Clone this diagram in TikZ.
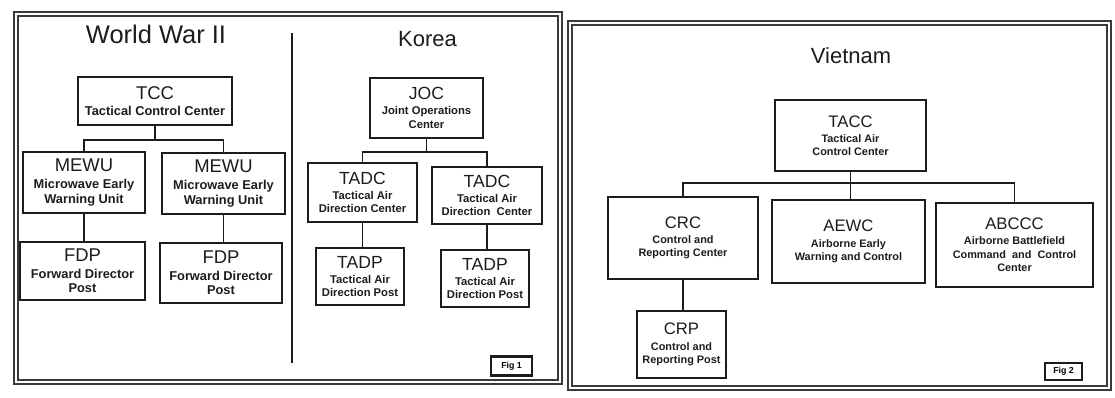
\documentclass[tikz,border=0pt]{standalone}
\usepackage{fontspec}
\setmainfont{Liberation Sans}
\usetikzlibrary{positioning}
\definecolor{ScanInk}{HTML}{1C1C1C}
\definecolor{ScanFrame}{HTML}{3A3A3A}
\newcommand{\abbr}[2]{{\mdseries\fontsize{#1}{#1}\selectfont #2}}
\tikzset{
   unit/.style={draw=ScanInk, line width=1pt, align=center, inner sep=1pt,
      text=ScanInk, font=\bfseries\fontsize{7.3}{8.4}\selectfont},
   unitK/.style={unit, font=\bfseries\fontsize{6.4}{7.6}\selectfont},
   unitV/.style={unit, font=\bfseries\fontsize{6.2}{7.6}\selectfont},
   link/.style={draw=ScanInk, line width=0.8pt},
   title/.style={text=ScanInk, inner sep=0pt},
   figbox/.style={draw=ScanInk, line width=1.5pt, inner sep=0pt,
      font=\bfseries\fontsize{5}{5}\selectfont}
}

\begin{document}
\begin{tikzpicture}[x=0.02cm, y=-0.02cm]
   \useasboundingbox (0,0) rectangle (1115,398);
   % Frames
   \draw[ScanFrame, line width=1.3pt] (14,12) rectangle (562,384);
   \draw[ScanFrame, line width=0.7pt] (18,16) rectangle (558,380);
   \draw[ScanFrame, line width=1.3pt] (568,21) rectangle (1111,390);
   \draw[ScanFrame, line width=0.7pt] (572,25) rectangle (1107,386);
   \draw[ScanInk, line width=1pt] (292,33) -- (292,363);

   % World War II
   \node[title, font=\fontsize{14.5}{15}\selectfont] (wwTitle) at (156,34) {World War II};
   \node[unit, minimum width=3.08cm, minimum height=0.96cm] (tcc) at (155,101)
      {\abbr{10.5}{TCC}\\[1pt] Tactical Control Center};
   \node[unit, minimum width=2.44cm, minimum height=1.22cm] (mewuA) at (84,182.5)
      {\abbr{10.5}{MEWU}\\[1pt] Microwave Early\\ Warning Unit};
   \node[unit, minimum width=2.46cm, minimum height=1.22cm] (mewuB) at (223.5,183.5)
      {\abbr{10.5}{MEWU}\\[1pt] Microwave Early\\ Warning Unit};
   \node[unit, minimum width=2.5cm, minimum height=1.16cm] (fdpA) at (82.5,271)
      {\abbr{10.5}{FDP}\\[1pt] Forward Director\\ Post};
   \node[unit, minimum width=2.44cm, minimum height=1.2cm] (fdpB) at (221,273)
      {\abbr{10.5}{FDP}\\[1pt] Forward Director\\ Post};
   \coordinate (wwBus) at (155,140);
   \draw[link] (tcc.south) -- (wwBus);
   \draw[link] (mewuA.north) |- (wwBus) -| (mewuB.north);
   \draw[link] (mewuA.south) -- (mewuA.south |- fdpA.north);
   \draw[link] (mewuB.south) -- (mewuB.south |- fdpB.north);

   % Korea
   \node[title, font=\fontsize{12.5}{13}\selectfont] (krTitle) at (427.5,39) {Korea};
   \node[unitK, minimum width=2.26cm, minimum height=1.2cm] (joc) at (426.5,108)
      {\abbr{10}{JOC}\\[1pt] Joint Operations\\ Center};
   \node[unitK, minimum width=2.18cm, minimum height=1.18cm] (tadcA) at (362.5,192.5)
      {\abbr{10}{TADC}\\[1pt] Tactical Air\\ Direction Center};
   \node[unitK, minimum width=2.2cm, minimum height=1.14cm] (tadcB) at (487,195.5)
      {\abbr{10}{TADC}\\[1pt] Tactical Air\\ Direction\ \ Center};
   \node[unitK, minimum width=1.76cm, minimum height=1.14cm] (tadpA) at (360,276.5)
      {\abbr{10}{TADP}\\[1pt] Tactical Air\\ Direction Post};
   \node[unitK, minimum width=1.76cm, minimum height=1.14cm] (tadpB) at (485,278.5)
      {\abbr{10}{TADP}\\[1pt] Tactical Air\\ Direction Post};
   \coordinate (krBus) at (426.5,152);
   \draw[link] (joc.south) -- (krBus);
   \draw[link] (tadcA.north) |- (krBus) -| (tadcB.north);
   \draw[link] (tadcA.south) -- (tadcA.south |- tadpA.north);
   \draw[link] (tadcB.south) -- (tadcB.south |- tadpB.north);
   \node[figbox, minimum width=0.82cm, minimum height=0.38cm] (figA) at (511.5,366) {Fig 1};

   % Vietnam
   \node[title, font=\fontsize{12.5}{13}\selectfont] (vnTitle) at (851,56) {Vietnam};
   \node[unitV, minimum width=3.02cm, minimum height=1.42cm] (tacc) at (850.5,135.5)
      {\abbr{9.5}{TACC}\\[1pt] Tactical Air\\ Control Center};
   \node[unitV, minimum width=3cm, minimum height=1.64cm] (crc) at (683,238)
      {\abbr{9.5}{CRC}\\[1pt] Control and\\ Reporting Center};
   \node[unitV, minimum width=3.06cm, minimum height=1.66cm] (aewc) at (848.5,241.5)
      {\abbr{9.5}{AEWC}\\[1pt] Airborne Early\\ Warning and Control};
   \node[unitV, minimum width=3.14cm, minimum height=1.68cm] (abccc) at (1014.5,245)
      {\abbr{9.5}{ABCCC}\\[1pt] Airborne Battlefield\\ Command\ \ and\ \ Control\\ Center};
   \node[unitV, minimum width=1.78cm, minimum height=1.34cm] (crp) at (681.5,344.5)
      {\abbr{9.5}{CRP}\\[1pt] Control and\\ Reporting Post};
   \coordinate (vnBus) at (850.5,183);
   \draw[link] (tacc.south) -- (tacc.south |- aewc.north);
   \draw[link] (crc.north) |- (vnBus) -| (abccc.north);
   \draw[link] (crc.south) -- (crc.south |- crp.north);
   \node[figbox, minimum width=0.74cm, minimum height=0.34cm] (figB) at (1063.5,371.5) {Fig 2};
\end{tikzpicture}
\end{document}
